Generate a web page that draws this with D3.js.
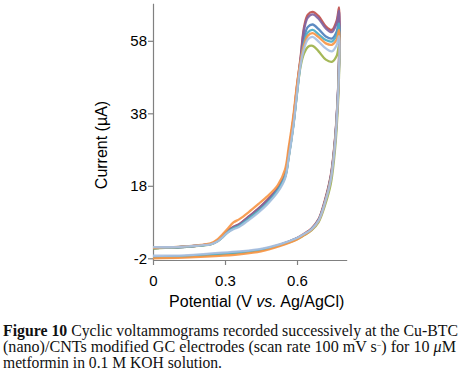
<!DOCTYPE html>
<html lang="en">
<head>
  <meta charset="UTF-8" />
  <title>Cyclic voltammograms - Cu-BTC/CNTs</title>
  <script src="https://d3js.org/d3.v7.min.js"></script>
  <style>
    body { margin: 0; background: white; }
    svg { display: block; background: white; }
    .axis text { font-family: "Liberation Sans", Arial, sans-serif; font-size: 15px; fill: #000; }
    .axis path, .axis line { stroke: #808080; stroke-width: 1.2; }
    .label { font-family: "Liberation Sans", Arial, sans-serif; font-size: 16px; fill: #000; }
    .caption { font-family: "Liberation Serif", "DejaVu Serif", serif; font-size: 16px; fill: #111; }
  </style>
</head>
<body>

<svg width="466" height="376"></svg>

<script>
  // potential (V) along one cycle: forward scan, then reverse scan
  const potential = [
    0, 0.05, 0.10, 0.15, 0.20, 0.24, 0.27, 0.29, 0.31, 0.335, 0.36, 0.40, 0.44, 0.475,
    0.52, 0.55, 0.565, 0.585, 0.60, 0.615, 0.63, 0.645, 0.665, 0.69, 0.72, 0.745, 0.765, 0.775,
    0.777, 0.775, 0.771, 0.759, 0.741, 0.716, 0.69, 0.66, 0.63, 0.60, 0.53, 0.45, 0.36, 0.26, 0.13, 0
  ];

  // current (µA) for each successive scan
  const scanBlue = [
    0.8, 0.9, 1.05, 1.25, 1.55, 1.9, 2.8, 3.9, 5.2, 6.3, 7.0, 9.0, 11.1, 13.2,
    16.8, 20.5, 26, 35, 44, 52.5, 59, 61.8, 62.5, 61.2, 59.2, 58.6, 60.5, 64,
    60, 52, 44, 31, 20.5, 13.5, 8.5, 6.0, 4.6, 3.5, 1.7, 0.3, -0.4, -0.9, -1.5, -1.75
  ];
  const scanRed = [
    0.8, 0.9, 1.05, 1.25, 1.6, 1.95, 2.9, 4.1, 5.5, 6.7, 7.5, 9.6, 11.8, 14.0,
    17.4, 21.0, 27, 36.5, 45.5, 53.5, 62, 65.2, 66.0, 64.8, 62.0, 61.0, 63.5, 67.2,
    63, 53, 44.5, 31.5, 21, 14, 8.8, 6.2, 4.8, 3.6, 1.8, 0.4, -0.3, -0.8, -1.4, -1.7
  ];
  const scanPurple = [
    0.8, 0.9, 1.05, 1.25, 1.6, 1.95, 2.9, 4.1, 5.4, 6.6, 7.4, 9.5, 11.7, 13.9,
    17.3, 21.0, 27, 36.3, 45.3, 53, 61.3, 64.4, 65.3, 64.1, 61.4, 60.4, 62.8, 66.3,
    62, 52.5, 44, 31, 20.5, 13.6, 8.6, 6.0, 4.6, 3.5, 1.7, 0.3, -0.4, -0.9, -1.5, -1.75
  ];
  const scanGreen = [
    0.7, 0.85, 1.0, 1.2, 1.5, 1.85, 2.75, 3.85, 5.1, 6.2, 6.9, 8.9, 11.0, 13.1,
    16.6, 20.3, 25.8, 34.8, 43.5, 51, 54.6, 56.3, 56.6, 55.1, 52.8, 52.2, 53.8, 56.8,
    54, 48.5, 41, 28.5, 18.6, 12.5, 8.0, 5.7, 4.4, 3.3, 1.6, 0.2, -0.5, -1.0, -1.55, -1.8
  ];
  const scanAqua = [
    0.8, 0.9, 1.05, 1.25, 1.55, 1.9, 2.8, 3.9, 5.2, 6.3, 7.0, 9.0, 11.1, 13.2,
    16.8, 20.5, 26, 35, 44, 52, 57.8, 60.3, 61.0, 59.8, 58.2, 57.8, 59.5, 62.8,
    59, 51.5, 43.5, 30.5, 20.2, 13.4, 8.5, 6.0, 4.6, 3.5, 1.7, 0.3, -0.4, -0.9, -1.5, -1.75
  ];
  const scanOrange = [
    0.9, 1.0, 1.15, 1.35, 1.7, 2.1, 3.3, 4.6, 6.1, 7.9, 8.8, 10.8, 13.0, 15.0,
    18.2, 22.5, 28.5, 37.5, 46, 52.5, 57, 59.4, 60.1, 59.0, 57.3, 56.9, 58.3, 61,
    58, 51, 43, 30.5, 20, 13.2, 8.3, 5.8, 4.4, 3.2, 1.4, -0.1, -0.9, -1.4, -1.8, -2.0
  ];
  const scanLightBlue = [
    1.1, 1.05, 1.1, 1.3, 1.55, 1.85, 2.7, 3.8, 5.0, 6.0, 6.7, 8.6, 10.7, 12.8,
    16.3, 20.0, 25.5, 34.5, 43.5, 51.5, 56, 58.4, 59.1, 57.8, 55.9, 55.1, 56.8, 59.3,
    56, 50, 43, 30, 19.8, 13.2, 8.4, 6.0, 4.7, 3.6, 1.9, 0.6, -0.1, -0.6, -1.2, -1.3
  ];

  const scans = [scanBlue, scanRed, scanPurple, scanGreen, scanAqua, scanOrange, scanLightBlue];
  const scanColors = ["#4F81BD", "#C0504D", "#8064A2", "#9DB24A", "#4BACC6", "#F79646", "#A7C0E2"];

  const xTicks = [0, 0.3, 0.6];
  const yTicks = [-2, 18, 38, 58];

  const svg = d3.select("svg");

  const x = d3.scaleLinear().domain([0, 0.807]).range([153, 346.7]);
  const y = d3.scaleLinear().domain([-2.47, 68.35]).range([260, 3.3]);

  // axes
  svg.append("g")
    .attr("class", "axis")
    .attr("transform", "translate(0,260)")
    .call(d3.axisBottom(x).tickValues(xTicks).tickFormat(d => d === 0 ? "0" : d.toFixed(1))
      .tickSize(5).tickSizeOuter(0).tickPadding(10));

  svg.append("g")
    .attr("class", "axis")
    .attr("transform", "translate(153,0)")
    .call(d3.axisLeft(y).tickValues(yTicks).tickFormat(d => String(d))
      .tickSize(5).tickSizeOuter(0).tickPadding(1));

  // curves
  const line = d3.line()
    .x((d, i) => x(potential[i]))
    .y(d => y(d))
    .curve(d3.curveCatmullRom.alpha(0.5));

  svg.append("g")
    .selectAll("path")
    .data(scans)
    .join("path")
    .attr("d", d => line(d))
    .attr("fill", "none")
    .attr("stroke", (d, i) => scanColors[i])
    .attr("stroke-width", 2.3)
    .attr("stroke-opacity", 0.92)
    .attr("stroke-linejoin", "round");

  // axis titles
  const xLabel = svg.append("text")
    .attr("class", "label")
    .attr("x", 256.7)
    .attr("y", 307)
    .attr("text-anchor", "middle");
  xLabel.append("tspan").text("Potential (V ");
  xLabel.append("tspan").attr("font-style", "italic").text("vs.");
  xLabel.append("tspan").text(" Ag/AgCl)");

  svg.append("text")
    .attr("class", "label")
    .attr("transform", "translate(107,145) rotate(-90)")
    .attr("text-anchor", "middle")
    .text("Current (\u00b5A)");

  // caption
  const cap1 = svg.append("text").attr("class", "caption")
    .attr("x", 3).attr("y", 336)
    .attr("textLength", 455).attr("lengthAdjust", "spacingAndGlyphs");
  cap1.append("tspan").attr("font-weight", "bold").text("Figure 10");
  cap1.append("tspan").text(" Cyclic voltammograms recorded successively at the Cu-BTC");

  const cap2 = svg.append("text").attr("class", "caption")
    .attr("x", 3).attr("y", 352)
    .attr("textLength", 453).attr("lengthAdjust", "spacingAndGlyphs");
  cap2.append("tspan").text("(nano)/CNTs modified GC electrodes (scan rate 100 mV s");
  cap2.append("tspan").attr("font-size", "8px").attr("dy", -4).text("\u2212");
  cap2.append("tspan").attr("dy", 4).text(") for 10 ");
  cap2.append("tspan").attr("font-style", "italic").text("\u03bc");
  cap2.append("tspan").text("M");

  svg.append("text").attr("class", "caption")
    .attr("x", 3).attr("y", 368)
    .attr("textLength", 219).attr("lengthAdjust", "spacingAndGlyphs")
    .text("metformin in 0.1 M KOH solution.");
</script>

</body>
</html>
